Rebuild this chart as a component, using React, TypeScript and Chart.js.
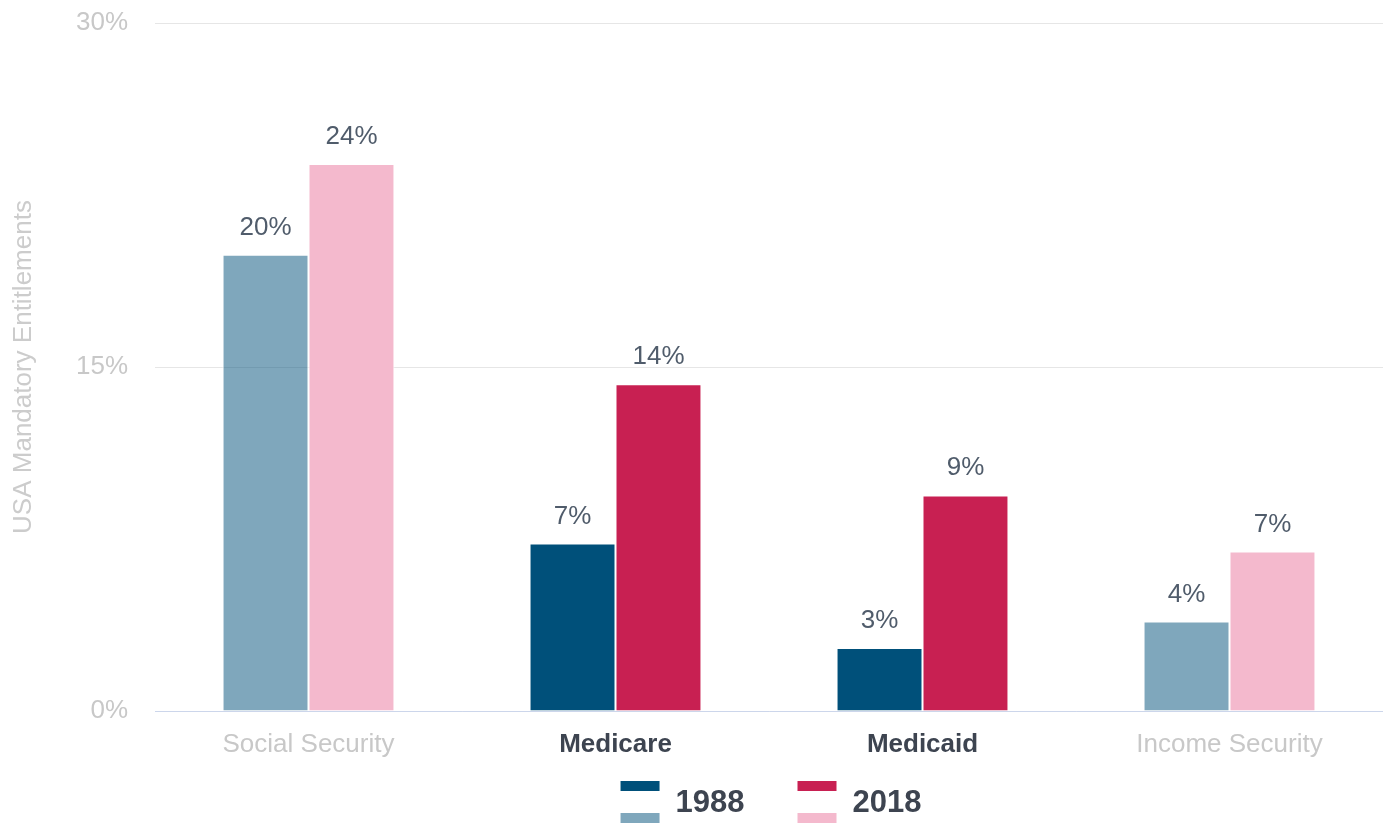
import React, { useEffect, useRef } from "react";
import { Chart, registerables } from "chart.js";

Chart.register(...registerables);

const categories = ["Social Security", "Medicare", "Medicaid", "Income Security"];
const highlighted = ["Medicare", "Medicaid"];
const seriesNames = ["1988", "2018"];
const values1988 = [19.9, 7.3, 2.75, 3.9];
const values2018 = [23.85, 14.25, 9.4, 6.95];
const yTicks = [0, 15, 30];
const yTitle = "USA Mandatory Entitlements";

const FONT = "'Liberation Sans', Arial, Helvetica, sans-serif";
const strongColors = ["#00507a", "#c82052"];
const fadedColors = ["rgba(0,80,122,0.5)", "#f4b9cd"];

const isHi = (i: number) => highlighted.includes(categories[i]);

const valueLabels = {
  id: "valueLabels",
  afterDatasetsDraw(chart: any) {
    const ctx = chart.ctx;
    ctx.save();
    ctx.font = `26px ${FONT}`;
    ctx.fillStyle = "#505c6b";
    ctx.textAlign = "center";
    ctx.textBaseline = "alphabetic";
    chart.data.datasets.forEach((ds: any, di: number) => {
      const meta = chart.getDatasetMeta(di);
      meta.data.forEach((bar: any, i: number) => {
        const v = ds.data[i];
        ctx.fillText(`${Math.round(v)}%`, bar.x, bar.y - 20);
      });
    });
    ctx.restore();
  },
};

const twoToneLegend = {
  id: "twoToneLegend",
  afterDraw(chart: any) {
    const ctx = chart.ctx;
    const area = chart.chartArea;
    ctx.save();
    ctx.font = `bold 31px ${FONT}`;
    ctx.textBaseline = "middle";
    ctx.textAlign = "left";
    const boxW = 39;
    const gap = 16;
    const spacing = 53;
    const widths = chart.data.datasets.map((ds: any) => boxW + gap + ctx.measureText(ds.label).width);
    const total = widths.reduce((a: number, b: number) => a + b, 0) + spacing * (widths.length - 1);
    let x = (area.left + area.right) / 2 - total / 2 + 2;
    const yTop = 781;
    chart.data.datasets.forEach((ds: any, di: number) => {
      ctx.fillStyle = strongColors[di];
      ctx.fillRect(x, yTop, boxW, 10);
      ctx.fillStyle = fadedColors[di];
      ctx.fillRect(x, yTop + 32, boxW, 10);
      ctx.fillStyle = "#3d4450";
      ctx.fillText(ds.label, x + boxW + gap, yTop + 22);
      x += widths[di] + spacing;
    });
    ctx.restore();
  },
};

export default function App() {
  const ref = useRef<HTMLCanvasElement>(null);
  useEffect(() => {
    document.body.style.margin = "0";
    const chart = new Chart(ref.current!, {
      type: "bar",
      data: {
        labels: categories,
        datasets: [values1988, values2018].map((vals, di) => ({
          label: seriesNames[di],
          data: vals,
          backgroundColor: vals.map((_, i) => (isHi(i) ? strongColors[di] : fadedColors[di])),
          borderColor: "#ffffff",
          borderWidth: 1,
          categoryPercentage: 0.56,
          barPercentage: 1,
        })),
      },
      options: {
        responsive: true,
        maintainAspectRatio: false,
        animation: false,
        layout: { padding: { top: 23, right: 0, bottom: 68, left: 0 } },
        plugins: {
          legend: { display: false },
          tooltip: { enabled: false },
        },
        scales: {
          x: {
            grid: { display: false, drawTicks: false },
            border: { color: "#ccd6eb", width: 1 },
            afterFit: (axis: any) => {
              axis.height = 50;
              axis.paddingLeft = 0;
              axis.paddingRight = 0;
            },
            ticks: {
              padding: 18,
              font: (c: any) => ({ family: FONT, size: 26, weight: isHi(c.index) ? "bold" : "normal" }),
              color: (c: any) => (isHi(c.index) ? "#3d4450" : "#c8c8c8"),
            },
          },
          y: {
            min: 0,
            max: 30,
            afterBuildTicks: (axis: any) => {
              axis.ticks = yTicks.map((v) => ({ value: v }));
            },
            afterFit: (axis: any) => {
              axis.width = 155;
              axis.paddingTop = 0;
              axis.paddingBottom = 0;
            },
            grid: { color: "#e6e6e6", drawTicks: false },
            border: { display: false },
            ticks: {
              padding: 27,
              font: { family: FONT, size: 26 },
              color: "#c8c8c8",
              callback: (v: any) => `${v}%`,
            },
            title: {
              display: true,
              text: yTitle,
              font: { family: FONT, size: 26 },
              color: "#cccccc",
              padding: { top: 8, bottom: 10 },
            },
          },
        },
      },
      plugins: [valueLabels, twoToneLegend],
    });
    return () => chart.destroy();
  }, []);
  return (
    <div style={{ position: "relative", width: 1383, height: 829 }}>
      <canvas ref={ref} />
    </div>
  );
}
